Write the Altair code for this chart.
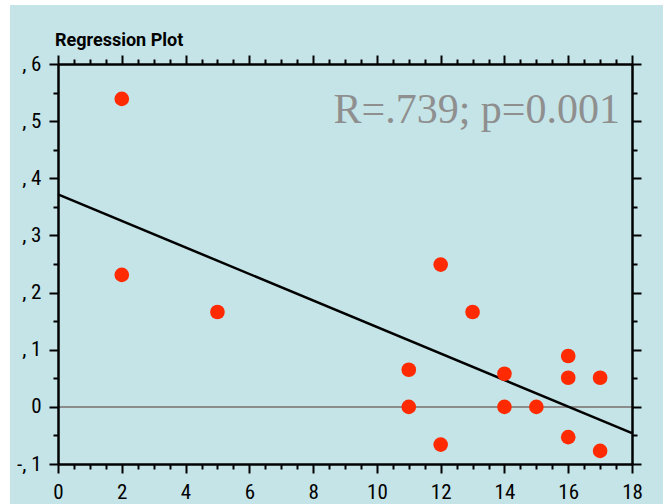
import altair as alt
import pandas as pd

# data
x_vals = [2, 2, 5, 11, 11, 12, 12, 13, 14, 14, 15, 16, 16, 16, 17, 17]
y_vals = [0.539, 0.231, 0.166, 0.065, 0.0, 0.249, -0.066, 0.166, 0.058, 0.0, 0.0,
          0.089, 0.051, -0.053, 0.051, -0.077]

x_ticks = [0, 0.5, 1, 1.5, 2, 2.5, 3, 3.5, 4, 4.5, 5, 5.5, 6, 6.5, 7, 7.5, 8, 8.5, 9,
           9.5, 10, 10.5, 11, 11.5, 12, 12.5, 13, 13.5, 14, 14.5, 15, 15.5, 16, 16.5,
           17, 17.5, 18]
y_ticks = [-0.1, -0.05, 0, 0.05, 0.1, 0.15, 0.2, 0.25, 0.3, 0.35, 0.4, 0.45, 0.5,
           0.55, 0.6]

annotation = "R=.739; p=0.001"
title_text = "Regression Plot"

df = pd.DataFrame({"x": x_vals, "y": y_vals})

W, H = 574, 400
BG = "#c5e4e7"
LABEL_FONT = "Liberation Sans Narrow, Roboto Condensed, Roboto, sans-serif"

xscale = alt.Scale(domain=[0, 18], nice=False, zero=False)
yscale = alt.Scale(domain=[-0.1, 0.6], nice=False, zero=False)

x_major = "datum.value % 2 == 0"
y_major = "abs(datum.value * 10 - round(datum.value * 10)) < 0.001"

common_axis = dict(
    grid=False,
    domainColor="black",
    domainWidth=2.5,
    tickColor="black",
    tickWidth=2,
    labelFont=LABEL_FONT,
    labelFontSize=21,
    labelColor="black",
    zindex=2,
)

x_bottom = alt.Axis(
    orient="bottom",
    values=x_ticks,
    tickSize={"condition": {"test": x_major, "value": 9}, "value": 5},
    labelExpr=f"{x_major} ? datum.value : ''",
    labelPadding=8,
    labelFlush=False,
    labelOverlap=False,
    title=None,
    **common_axis,
)
x_top = alt.Axis(
    orient="top",
    values=x_ticks,
    tickSize={"condition": {"test": x_major, "value": 9}, "value": 5},
    labels=False,
    title=None,
    **common_axis,
)
y_left = alt.Axis(
    orient="left",
    values=y_ticks,
    tickSize={"condition": {"test": y_major, "value": 9}, "value": 5},
    labelExpr=(
        f"{y_major} ? (abs(datum.value) < 0.001 ? '0' : "
        "replace(replace(format(datum.value, '.1f'), '0.', ', '), '\u2212', '-')) : ''"
    ),
    labelPadding=8,
    labelFlush=False,
    labelOverlap=False,
    title=None,
    **common_axis,
)
y_right = alt.Axis(
    orient="right",
    values=y_ticks,
    tickSize={"condition": {"test": y_major, "value": 9}, "value": 5},
    labels=False,
    title=None,
    **common_axis,
)

base = alt.Chart(df)

background = alt.Chart(pd.DataFrame({"a": [0]})).mark_rect(color=BG).encode(
    x=alt.value(-48), x2=alt.value(W + 31), y=alt.value(-59), y2=alt.value(H + 40)
)

zero_rule = base.mark_rule(color="#8c8c8c", strokeWidth=1.8).encode(
    y=alt.datum(0, scale=yscale, axis=None)
)

reg_line = base.transform_regression("x", "y", extent=[0, 18]).mark_line(
    color="black", strokeWidth=2.5
).encode(
    x=alt.X("x:Q", scale=xscale, axis=None),
    y=alt.Y("y:Q", scale=yscale, axis=None),
)

points = base.mark_circle(color="#ff2a00", opacity=1, size=215).encode(
    x=alt.X("x:Q", scale=xscale, axis=x_bottom),
    y=alt.Y("y:Q", scale=yscale, axis=y_left),
)

frame = base.mark_point(opacity=0).encode(
    x=alt.X("x:Q", scale=xscale, axis=x_top),
    y=alt.Y("y:Q", scale=yscale, axis=y_right),
)

label = alt.Chart(pd.DataFrame({"t": [annotation]})).mark_text(
    align="right", baseline="alphabetic", font="Liberation Serif",
    fontSize=42, color="#8f8f8f"
).encode(text="t:N", x=alt.value(562), y=alt.value(59))

title = alt.Chart(pd.DataFrame({"t": [title_text]})).mark_text(
    align="left", baseline="alphabetic", font="Roboto",
    fontSize=18, fontWeight="bold", color="black"
).encode(text="t:N", x=alt.value(-3), y=alt.value(-18))

chart = alt.layer(
    background, zero_rule, reg_line, points, frame, label, title
).resolve_axis(x="independent", y="independent").properties(
    width=W,
    height=H,
    background="white",
    autosize=alt.AutoSizeParams(type="none"),
    padding={"left": 58, "top": 64, "right": 34, "bottom": 40},
).configure_view(stroke=None)

chart.save("out.html", embed_options={"renderer": "svg", "actions": False})
